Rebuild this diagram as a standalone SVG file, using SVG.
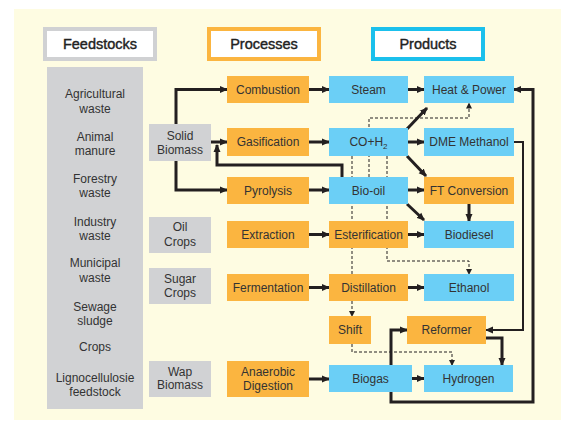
<svg xmlns="http://www.w3.org/2000/svg" width="561" height="423" viewBox="0 0 561 423">
<defs>
<style>
text{font-family:"Liberation Sans",Arial,sans-serif;fill:#333;text-anchor:middle;font-size:12px}
.hd{font-size:14.5px;fill:#222;stroke:#222;stroke-width:0.4}
.or{fill:#FBB540}
.bl{fill:#6BCFF6}
.gr{fill:#D1D2D4}
.th{fill:none;stroke:#231F20;stroke-width:3;marker-end:url(#ah)}
.md{fill:none;stroke:#231F20;stroke-width:2;marker-end:url(#ah)}
.ds{fill:none;stroke:#231F20;stroke-width:1;stroke-dasharray:3,2;marker-end:url(#as)}
</style>
<marker id="ah" markerUnits="userSpaceOnUse" markerWidth="8" markerHeight="8" refX="7" refY="4" orient="auto"><path d="M0,0.5 L8,4 L0,7.5 z" fill="#231F20"/></marker>
<marker id="as" markerUnits="userSpaceOnUse" markerWidth="6" markerHeight="6" refX="5" refY="3" orient="auto"><path d="M0,0 L6,3 L0,6 z" fill="#231F20"/></marker>
</defs>
<rect x="0" y="0" width="561" height="423" fill="#fff"/>
<rect x="14" y="9" width="547" height="411" fill="#FEFCE2"/>

<g id="headers">
<g id="h-feed"><rect x="45" y="29" width="110" height="30" fill="#fff" stroke="#D0D1D3" stroke-width="4"/><text class="hd" x="100" y="48.8">Feedstocks</text></g>
<g id="h-proc"><rect x="209" y="29" width="110" height="30" fill="#fff" stroke="#FBB540" stroke-width="4"/><text class="hd" x="264" y="48.8">Processes</text></g>
<g id="h-prod"><rect x="373" y="29" width="110" height="30" fill="#fff" stroke="#1BC0EC" stroke-width="4"/><text class="hd" x="428" y="48.8">Products</text></g>
</g>

<g id="connectors">
<path class="th" d="M176,124 V89.5 H227"/>
<path class="th" d="M176,161 V190 H227"/>
<path class="th" d="M211,142 H227"/>
<path class="th" d="M342,177 V165 H217 V145"/>
<path class="th" d="M309,89.5 H329"/>
<path class="th" d="M309,142 H329"/>
<path class="th" d="M309,190 H329"/>
<path class="th" d="M309,234.5 H329"/>
<path class="th" d="M309,287.5 H329"/>
<path class="th" d="M309,379 H329"/>
<path class="th" d="M408,89.5 H424"/>
<path class="th" d="M407,129 L427,108"/>
<path class="th" d="M408,142 H424"/>
<path class="th" d="M407,156 L426,176"/>
<path class="th" d="M408,190 H424"/>
<path class="th" d="M407,204 L424,220"/>
<path class="th" d="M469,204 V221"/>
<path class="th" d="M408,234.5 H424"/>
<path class="th" d="M408,287.5 H424"/>
<path class="th" d="M412,378.5 H424"/>
<path class="th" d="M391,365 V330 H407"/>
<path class="th" d="M391,392 V402 H533 V89.5 H514"/>
<path class="md" d="M514,142 H523 V330 H486"/>
<path class="th" d="M486,338 H502 V365"/>
<path class="ds" d="M369,177 V118 H469 V103.5"/>
<path class="ds" d="M352,156 V316"/>
<path class="ds" d="M387,156 V261 H469 V274"/>
<path class="ds" d="M352,344 V352 H452 V365"/>
</g>

<g id="feedstocks">
<rect class="gr" x="47" y="67" width="96" height="342"/>
<text x="95" y="98">Agricultural</text><text x="95" y="113">waste</text>
<text x="95" y="141">Animal</text><text x="95" y="155">manure</text>
<text x="95" y="183">Forestry</text><text x="95" y="197">waste</text>
<text x="95" y="226">Industry</text><text x="95" y="240">waste</text>
<text x="95" y="267">Municipal</text><text x="95" y="282">waste</text>
<text x="95" y="311">Sewage</text><text x="95" y="325">sludge</text>
<text x="95" y="351">Crops</text>
<text x="95" y="382">Lignocellulosie</text><text x="95" y="396">feedstock</text>
</g>

<g id="solid-biomass"><rect class="gr" x="149" y="124" width="62" height="37"/><text x="180" y="140.3">Solid</text><text x="180" y="154.3">Biomass</text></g>
<g id="oil-crops"><rect class="gr" x="149" y="217" width="62" height="36"/><text x="180" y="231.3">Oil</text><text x="180" y="246.3">Crops</text></g>
<g id="sugar-crops"><rect class="gr" x="149" y="268" width="62" height="36"/><text x="180" y="283.3">Sugar</text><text x="180" y="297.3">Crops</text></g>
<g id="wap-biomass"><rect class="gr" x="149" y="361" width="62" height="36"/><text x="180" y="376.3">Wap</text><text x="180" y="389.3">Biomass</text></g>

<g id="combustion"><rect class="or" x="227" y="76" width="82" height="27"/><text x="268" y="93.8">Combustion</text></g>
<g id="gasification"><rect class="or" x="227" y="128" width="82" height="28"/><text x="268" y="146.3">Gasification</text></g>
<g id="pyrolysis"><rect class="or" x="227" y="177" width="82" height="27"/><text x="268" y="194.8">Pyrolysis</text></g>
<g id="extraction"><rect class="or" x="227" y="221" width="82" height="27"/><text x="268" y="238.8">Extraction</text></g>
<g id="fermentation"><rect class="or" x="227" y="274" width="82" height="27"/><text x="268" y="291.8">Fermentation</text></g>
<g id="anaerobic"><rect class="or" x="227" y="361" width="82" height="36"/><text x="268" y="376.3">Anaerobic</text><text x="268" y="390.3">Digestion</text></g>

<g id="steam"><rect class="bl" x="329" y="76" width="79" height="27"/><text x="368.5" y="93.8">Steam</text></g>
<g id="coh2"><rect class="bl" x="329" y="128" width="79" height="28"/><text x="368.5" y="146.3">CO+H<tspan font-size="8" dy="3">2</tspan></text></g>
<g id="bio-oil"><rect class="bl" x="329" y="177" width="79" height="27"/><text x="368.5" y="194.8">Bio-oil</text></g>
<g id="esterification"><rect class="or" x="329" y="221" width="79" height="27"/><text x="368.5" y="238.8">Esterification</text></g>
<g id="distillation"><rect class="or" x="329" y="274" width="79" height="27"/><text x="368.5" y="291.8">Distillation</text></g>
<g id="shift"><rect class="or" x="329" y="316" width="42" height="28"/><text x="350" y="334.3">Shift</text></g>
<g id="biogas"><rect class="bl" x="329" y="365" width="83" height="27"/><text x="370.5" y="382.8">Biogas</text></g>

<g id="heat-power"><rect class="bl" x="424" y="76" width="90" height="27"/><text x="469" y="93.8">Heat &amp; Power</text></g>
<g id="dme"><rect class="bl" x="424" y="128" width="90" height="28"/><text x="469" y="146.3">DME Methanol</text></g>
<g id="ft"><rect class="or" x="424" y="177" width="90" height="27"/><text x="469" y="194.8">FT Conversion</text></g>
<g id="biodiesel"><rect class="bl" x="424" y="221" width="90" height="27"/><text x="469" y="238.8">Biodiesel</text></g>
<g id="ethanol"><rect class="bl" x="424" y="274" width="90" height="27"/><text x="469" y="291.8">Ethanol</text></g>
<g id="reformer"><rect class="or" x="407" y="316" width="79" height="28"/><text x="446.5" y="334.3">Reformer</text></g>
<g id="hydrogen"><rect class="bl" x="424" y="365" width="89" height="27"/><text x="468.5" y="382.8">Hydrogen</text></g>
</svg>
